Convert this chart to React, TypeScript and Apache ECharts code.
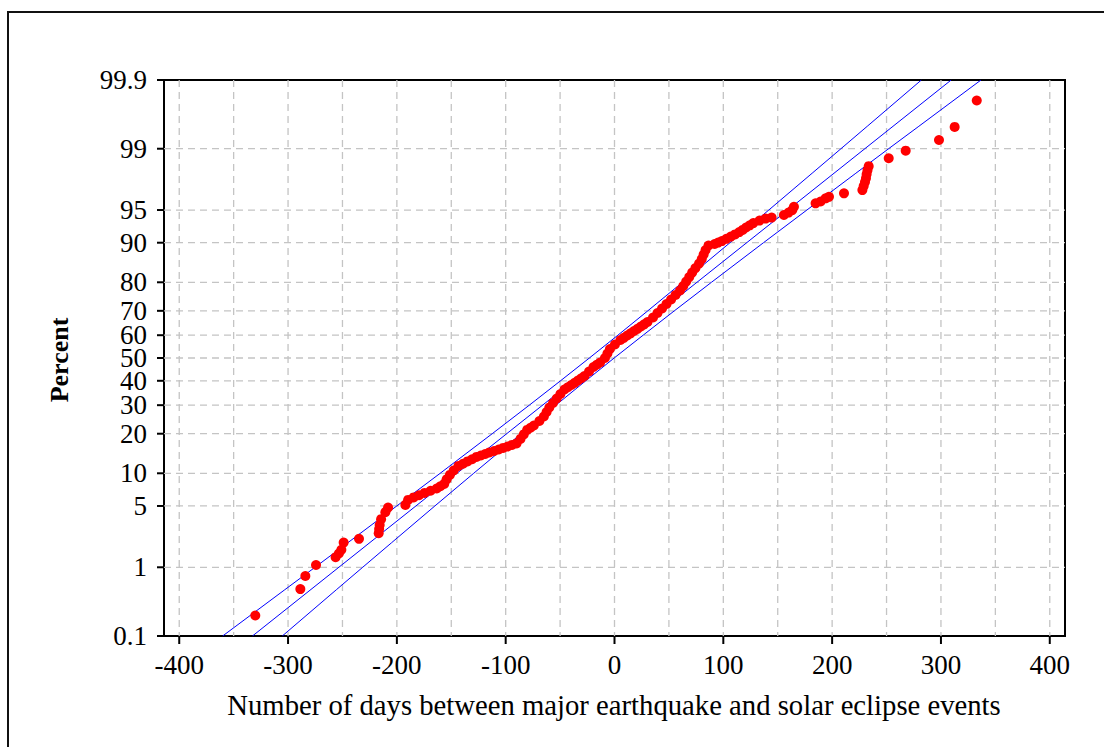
import React, { useEffect, useRef } from "react";
import * as echarts from "echarts";

// ---------- data ----------
const xLabelValues = [-400, -300, -200, -100, 0, 100, 200, 300, 400];
const xGridValues = [-400, -350, -300, -250, -200, -150, -100, -50, 0, 50, 100, 150, 200, 250, 300, 350, 400];
const yTickPercents = [0.1, 1, 5, 10, 20, 30, 40, 50, 60, 70, 80, 90, 95, 99, 99.9];

const obsDays = [
  -330.1, -288.7, -284.1, -274.3, -256.3, -253.3, -251.0, -248.9, -234.8, -216.7,
  -216.3, -215.8, -214.5, -210.6, -208.1, -192.2, -189.7, -184.6, -179.6, -174.5,
  -169.0, -163.4, -160.0, -156.5, -154.3, -151.3, -147.8, -143.4, -139.2, -135.1,
  -130.9, -126.8, -122.8, -118.8, -114.9, -110.6, -106.4, -102.3, -98.2, -94.2,
  -90.0, -86.4, -83.4, -80.3, -77.2, -74.1, -69.0, -64.9, -62.4, -59.9,
  -56.5, -53.1, -49.7, -46.0, -42.9, -39.7, -36.6, -33.6, -30.5, -27.6,
  -23.4, -19.3, -16.3, -13.2, -8.8, -6.5, -4.2, 0.4, 5.5, 8.6,
  11.7, 14.8, 17.9, 21.1, 24.2, 27.3, 30.3, 35.4, 39.5, 43.7,
  47.8, 52.0, 56.1, 60.2, 63.2, 65.9, 68.7, 71.4, 74.4, 77.7,
  80.2, 81.9, 83.7, 86.4, 92.0, 95.3, 98.7, 102.8, 106.9, 110.8,
  114.7, 117.8, 120.9, 124.3, 127.6, 133.3, 138.9, 144.4, 155.7, 160.0,
  163.4, 164.9, 184.8, 189.4, 194.0, 197.1, 210.9, 227.8, 229.0, 230.2,
  231.1, 231.7, 232.5, 233.6, 252.0, 267.6, 298.2, 312.6, 332.9,
];
const obsPercent = [
  0.21, 0.51, 0.77, 1.07, 1.34, 1.49, 1.65, 2.01, 2.22, 2.57,
  2.87, 3.17, 3.66, 4.33, 4.82, 5.12, 5.73, 6.06, 6.36, 6.68,
  7.0, 7.35, 7.7, 8.08, 8.85, 9.68, 10.56, 11.51, 11.99, 12.51,
  13.02, 13.57, 13.93, 14.3, 14.69, 15.07, 15.46, 15.87, 16.27, 16.69,
  17.11, 18.41, 19.77, 21.19, 21.9, 22.66, 24.2, 25.78, 27.43, 29.12,
  30.85, 32.64, 34.46, 36.32, 37.24, 38.21, 39.14, 40.13, 41.08, 42.07,
  44.04, 46.02, 46.99, 48.01, 50.0, 51.99, 53.98, 55.96, 57.93, 58.88,
  59.87, 60.81, 61.79, 62.72, 63.68, 64.6, 65.54, 67.36, 69.15, 70.88,
  72.57, 74.22, 75.8, 77.34, 78.81, 80.23, 81.59, 82.89, 84.13, 85.31,
  86.43, 87.49, 88.49, 89.44, 89.74, 90.03, 90.32, 90.73, 91.15, 91.53,
  91.92, 92.28, 92.65, 92.98, 93.32, 93.67, 93.94, 94.07, 94.4, 94.7,
  94.99, 95.36, 95.72, 95.9, 96.2, 96.34, 96.64, 96.9, 97.2, 97.48,
  97.72, 97.95, 98.16, 98.35, 98.68, 98.94, 99.23, 99.49, 99.79,
];

const fitPercent = [0.1, 99.9];
const fitDays = [-332.7, 309.4];

const bandPercent = [0.1, 0.5, 1, 2, 5, 10, 20, 30, 40, 50, 60, 70, 80, 90, 95, 98, 99, 99.5, 99.9];
const lowerBandDays = [-360.1, -303.0, -275.2, -245.1, -200.1, -160.2, -112.4, -78.3, -49.6, -23.1, 3.1, 30.6, 62.5, 106.1, 141.8, 181.6, 208.1, 232.3, 282.0];
const upperBandDays = [-305.3, -255.6, -231.4, -204.9, -165.1, -129.4, -85.8, -53.9, -26.4, -0.3, 26.3, 55.0, 89.1, 136.9, 176.8, 221.8, 251.9, 279.7, 336.8];

const X_MIN = -414;
const X_MAX = 414;

// probit (inverse normal CDF) – the scale of the probability axis
function probit(p: number): number {
  const a = [-39.69683028665376, 220.9460984245205, -275.9285104469687, 138.357751867269, -30.66479806614716, 2.506628277459239];
  const b = [-54.47609879822406, 161.5858368580409, -155.6989798598866, 66.80131188771972, -13.28068155288572];
  const c = [-0.007784894002430293, -0.3223964580411365, -2.400758277161838, -2.549732539343734, 4.374664141464968, 2.938163982698783];
  const d = [0.007784695709041462, 0.3224671290700398, 2.445134137142996, 3.754408661907416];
  const plow = 0.02425;
  const phigh = 1 - plow;
  let q: number, r: number;
  if (p < plow) {
    q = Math.sqrt(-2 * Math.log(p));
    return (((((c[0] * q + c[1]) * q + c[2]) * q + c[3]) * q + c[4]) * q + c[5]) / ((((d[0] * q + d[1]) * q + d[2]) * q + d[3]) * q + 1);
  }
  if (p <= phigh) {
    q = p - 0.5;
    r = q * q;
    return ((((((a[0] * r + a[1]) * r + a[2]) * r + a[3]) * r + a[4]) * r + a[5]) * q) / (((((b[0] * r + b[1]) * r + b[2]) * r + b[3]) * r + b[4]) * r + 1);
  }
  q = Math.sqrt(-2 * Math.log(1 - p));
  return -(((((c[0] * q + c[1]) * q + c[2]) * q + c[3]) * q + c[4]) * q + c[5]) / ((((d[0] * q + d[1]) * q + d[2]) * q + d[3]) * q + 1);
}
const pz = (percent: number) => probit(percent / 100);

const Y_MIN = pz(0.1);
const Y_MAX = pz(99.9);

const FONT = '"Liberation Serif", "Times New Roman", serif';
const GRID_COLOR = "#c4c4c4";
const TICK_FONT_SIZE = 27;

export default function App() {
  const ref = useRef<HTMLDivElement>(null);

  useEffect(() => {
    if (!ref.current) return;
    const chart = echarts.init(ref.current, null, { renderer: "svg" });

    const option: any = {
      animation: false,
      backgroundColor: "#ffffff",
      grid: {
        left: 164,
        right: 39,
        top: 80,
        bottom: 111,
        show: true,
        borderColor: "#000",
        borderWidth: 2,
        backgroundColor: "transparent",
      },
      xAxis: {
        type: "value",
        min: X_MIN,
        max: X_MAX,
        minInterval: 50,
        maxInterval: 50,
        axisLine: { show: false },
        axisTick: { show: false },
        splitLine: { show: false },
        axisLabel: {
          margin: 15,
          fontFamily: FONT,
          fontSize: TICK_FONT_SIZE,
          color: "#000",
          showMinLabel: true,
          showMaxLabel: true,
          formatter: (v: number) => (xLabelValues.indexOf(Math.round(v)) >= 0 && Math.abs(v - Math.round(v)) < 1e-6 ? String(Math.round(v)) : ""),
        },
      },
      yAxis: {
        type: "value",
        min: Y_MIN,
        max: Y_MAX,
        axisLine: { show: false },
        axisTick: { show: false },
        axisLabel: { show: false },
        splitLine: { show: false },
      },
      graphic: [
        { type: "line", shape: { x1: 8, y1: 12, x2: 8, y2: 747 }, style: { stroke: "#111", lineWidth: 2 } },
        { type: "line", shape: { x1: 7, y1: 12, x2: 1104, y2: 12 }, style: { stroke: "#111", lineWidth: 2 } },
        {
          type: "text",
          x: 614,
          y: 705,
          style: {
            text: "Number of days between major earthquake and solar eclipse events",
            fontFamily: FONT,
            fontSize: 28.7,
            fill: "#000",
            align: "center",
            verticalAlign: "middle",
          },
        },
        {
          type: "text",
          x: 59,
          y: 360,
          rotation: Math.PI / 2,
          style: {
            text: "Percent",
            fontFamily: FONT,
            fontSize: 26,
            fontWeight: "bold",
            fill: "#000",
            align: "center",
            verticalAlign: "middle",
          },
        },
      ],
      series: [
        // vertical grid lines + x ticks
        {
          type: "custom",
          coordinateSystem: "cartesian2d",
          clip: false,
          silent: true,
          z: 1,
          data: xGridValues.map((v) => [v, Y_MIN]),
          encode: { x: 0, y: 1 },
          renderItem: (params: any, api: any) => {
            const cs = params.coordSys;
            const v = xGridValues[params.dataIndex];
            const x = api.coord([v, Y_MIN])[0];
            const children: any[] = [
              {
                type: "line",
                shape: { x1: x, y1: cs.y, x2: x, y2: cs.y + cs.height },
                style: { stroke: GRID_COLOR, lineWidth: 1.3, lineDash: [7, 5] },
              },
            ];
            if (xLabelValues.indexOf(v) >= 0) {
              children.push({
                type: "line",
                shape: { x1: x, y1: cs.y + cs.height, x2: x, y2: cs.y + cs.height + 8 },
                style: { stroke: "#000", lineWidth: 2 },
              });
            }
            return { type: "group", children };
          },
        },
        // horizontal grid lines + y ticks + y labels (probability scale)
        {
          type: "custom",
          coordinateSystem: "cartesian2d",
          clip: false,
          silent: true,
          z: 1,
          data: yTickPercents.map((p) => [X_MIN, pz(p)]),
          encode: { x: 0, y: 1 },
          renderItem: (params: any, api: any) => {
            const cs = params.coordSys;
            const p = yTickPercents[params.dataIndex];
            const y = api.coord([X_MIN, pz(p)])[1];
            const children: any[] = [];
            if (p !== 0.1 && p !== 99.9) {
              children.push({
                type: "line",
                shape: { x1: cs.x, y1: y, x2: cs.x + cs.width, y2: y },
                style: { stroke: GRID_COLOR, lineWidth: 1.3, lineDash: [7, 5] },
              });
            }
            children.push({
              type: "line",
              shape: { x1: cs.x - 7, y1: y, x2: cs.x, y2: y },
              style: { stroke: "#000", lineWidth: 2 },
            });
            children.push({
              type: "text",
              style: {
                text: String(p),
                x: cs.x - 17,
                y: y,
                align: "right",
                verticalAlign: "middle",
                fontFamily: FONT,
                fontSize: TICK_FONT_SIZE,
                lineHeight: 20,
                fill: "#000",
              },
            });
            return { type: "group", children };
          },
        },
        {
          type: "line",
          name: "lower",
          data: lowerBandDays.map((d, i) => [d, pz(bandPercent[i])]),
          showSymbol: false,
          symbol: "none",
          lineStyle: { color: "#0000ff", width: 1 },
          z: 3,
          silent: true,
        },
        {
          type: "line",
          name: "fit",
          data: fitDays.map((d, i) => [d, pz(fitPercent[i])]),
          showSymbol: false,
          symbol: "none",
          lineStyle: { color: "#0000ff", width: 1 },
          z: 3,
          silent: true,
        },
        {
          type: "line",
          name: "upper",
          data: upperBandDays.map((d, i) => [d, pz(bandPercent[i])]),
          showSymbol: false,
          symbol: "none",
          lineStyle: { color: "#0000ff", width: 1 },
          z: 3,
          silent: true,
        },
        {
          type: "scatter",
          name: "observed",
          data: obsDays.map((d, i) => [d, pz(obsPercent[i])]),
          symbol: "circle",
          symbolSize: 10,
          itemStyle: { color: "#ff0000", opacity: 1 },
          z: 4,
          silent: true,
        },
      ],
    };

    chart.setOption(option);
    return () => {
      chart.dispose();
    };
  }, []);

  return (
    <div
      ref={ref}
      style={{ position: "fixed", left: 0, top: 0, width: 1104, height: 747, background: "#fff" }}
    />
  );
}
